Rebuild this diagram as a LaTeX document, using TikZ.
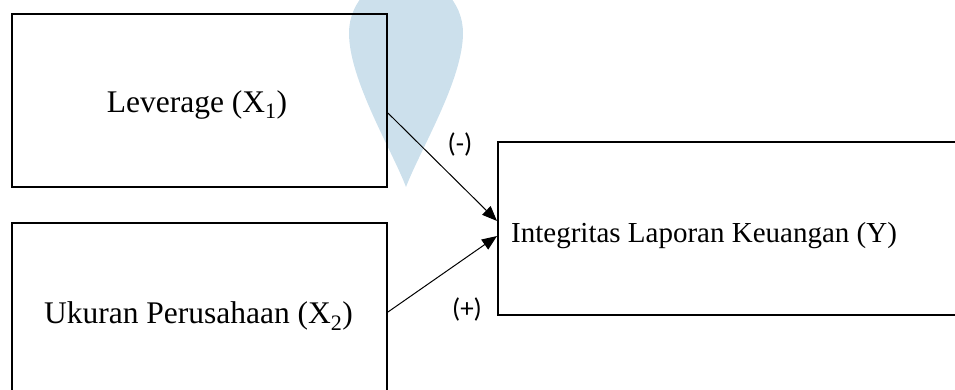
\documentclass[tikz,border=0pt]{standalone}
\usepackage{fontspec}
\setmainfont{Liberation Serif}
\newfontfamily\lblfont{Carlito}
\usetikzlibrary{arrows.meta,calc}
\definecolor{wmblue}{RGB}{204,224,236}
\tikzset{
  varbox/.style={draw=black, line width=2pt, rectangle, inner sep=0pt},
  vartext/.style={font=\fontsize{31.5}{38}\selectfont, inner sep=0pt, anchor=base},
  signlbl/.style={font=\lblfont\fontsize{27}{32}\selectfont, inner sep=0pt},
  link/.style={draw=black, line width=1pt, -{Triangle[length=15pt,width=12pt]}}
}
\begin{document}
\begin{tikzpicture}[x=1pt,y=1pt]
\useasboundingbox (0,0) rectangle (955,390);
\clip (0,0) rectangle (955,390);
% watermark
\fill[wmblue] (406,203) .. controls (392,240) and (349,310) .. (349,357)
  arc[start angle=180,end angle=0,radius=57]
  .. controls (463,310) and (420,240) .. (406,203);
% boxes
\node[varbox, minimum width=375pt, minimum height=173pt] (x1) at (199.5,289.5) {};
\node[varbox, minimum width=375pt, minimum height=187pt] (x2) at (199.5,73.5) {};
\node[varbox, minimum width=472pt, minimum height=173pt] (y) at (734,161.5) {};
% texts
\node[vartext] (x1t) at (197,277) {Leverage (X\textsubscript{1})};
\node[vartext] (x2t) at (198.5,66) {Ukuran Perusahaan (X\textsubscript{2})};
\node[vartext, font=\fontsize{29}{35}\selectfont, anchor=base west] (yt) at (511,147) {Integritas Laporan Keuangan (Y)};
% connectors
\coordinate (s1) at ($(x1.north east)!0.572!(x1.south east)$);
\coordinate (e1) at ($(y.north west)!0.457!(y.south west)$);
\coordinate (s2) at ($(x2.north east)!0.476!(x2.south east)$);
\coordinate (e2) at ($(y.north west)!0.543!(y.south west)$);
\draw[link] (s1) -- (e1);
\draw[link] (s2) -- (e2);
% labels
\node[signlbl] (neg) at (460,245) {(-)};
\node[signlbl] (pos) at (467,80) {(+)};
\end{tikzpicture}
\end{document}
